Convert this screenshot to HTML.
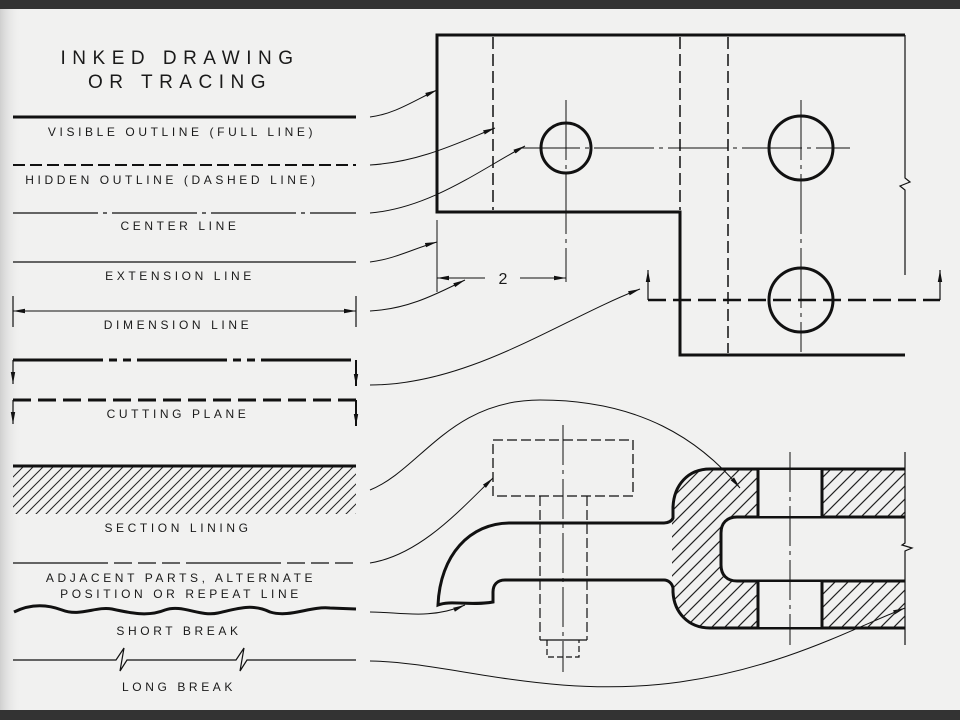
<!DOCTYPE html>
<html><head><meta charset="utf-8"><style>
html,body{margin:0;padding:0;width:960px;height:720px;overflow:hidden;background:#f1f1f0}
svg{display:block}
text{font-family:"Liberation Sans",sans-serif;fill:#1a1a1a}
</style></head><body>
<svg width="960" height="720" viewBox="0 0 960 720" xmlns="http://www.w3.org/2000/svg">
<defs>
<linearGradient id="lg" x1="0" x2="1"><stop offset="0" stop-color="#cfcfcf"/><stop offset="1" stop-color="#f1f1f0" stop-opacity="0"/></linearGradient>
<pattern id="h1" width="10" height="10" patternUnits="userSpaceOnUse"><path d="M-2,12 L12,-2 M-2,2 L2,-2 M8,12 L12,8" stroke="#222" stroke-width="1"/></pattern>
<pattern id="h2" width="13" height="13" patternUnits="userSpaceOnUse"><path d="M-2,15 L15,-2 M-2,2 L2,-2 M11,15 L15,11" stroke="#222" stroke-width="1.2"/></pattern>
<marker id="ar" markerWidth="12" markerHeight="6" refX="12" refY="3" orient="auto" markerUnits="userSpaceOnUse"><path d="M0,0.8 L12,3 L0,5.2 Z" fill="#111"/></marker>
</defs>
<rect x="0" y="0" width="22" height="720" fill="url(#lg)"/>
<rect x="0" y="0" width="960" height="9" fill="#333"/>
<rect x="0" y="710" width="960" height="10" fill="#333"/>

<g fill="none" stroke="#111">
<line x1="13" y1="117" x2="356" y2="117" stroke-width="3"/>
<line x1="13" y1="165" x2="356" y2="165" stroke-width="2" stroke-dasharray="12,5"/>
<line x1="13" y1="213" x2="356" y2="213" stroke-width="1.2" stroke-dasharray="85,5,4,5"/>
<line x1="13" y1="262" x2="356" y2="262" stroke-width="1.2"/>
<line x1="13" y1="311" x2="356" y2="311" stroke-width="1" marker-end="url(#ar)"/>
<line x1="356" y1="311" x2="13" y2="311" stroke-width="1" marker-end="url(#ar)"/>
<line x1="13" y1="296" x2="13" y2="327" stroke-width="1.2"/>
<line x1="356" y1="296" x2="356" y2="327" stroke-width="1.2"/>
<line x1="13" y1="360" x2="356" y2="360" stroke-width="3" stroke-dasharray="90,6,8,6,8,6"/>
<line x1="13" y1="360" x2="13" y2="384" stroke-width="1.2" marker-end="url(#ar)"/>
<line x1="356" y1="360" x2="356" y2="386" stroke-width="2" marker-end="url(#ar)"/>
<line x1="13" y1="400" x2="356" y2="400" stroke-width="3" stroke-dasharray="18,7"/>
<line x1="13" y1="400" x2="13" y2="424" stroke-width="1.2" marker-end="url(#ar)"/>
<line x1="356" y1="400" x2="356" y2="426" stroke-width="2" marker-end="url(#ar)"/>
<rect x="13" y="467" width="343" height="47" fill="url(#h1)" stroke="none"/>
<line x1="13" y1="466" x2="356" y2="466" stroke-width="3"/>
<line x1="13" y1="563" x2="356" y2="563" stroke-width="1.2" stroke-dasharray="95,6,18,6,18,6,18,6"/>
<path d="M14,612 C30,604 46,604 62,610 C80,617 96,606 112,609 C130,613 148,617 165,610 C182,604 200,617 218,613 C236,609 252,603 270,612 C290,618 310,606 330,608 L356,609" stroke-width="3"/>
<path d="M13,660 L116,660 L124,648 L120,671 L127,660 L236,660 L244,648 L240,671 L247,660 L356,660" stroke-width="1.2"/>

<g stroke-width="1">
<path d="M370,117 C395,114 415,100 437,90" marker-end="url(#ar)"/>
<path d="M370,165 C420,162 460,142 495,128" marker-end="url(#ar)"/>
<path d="M370,213 C430,208 480,170 525,146" marker-end="url(#ar)"/>
<path d="M370,262 C395,259 415,248 437,242" marker-end="url(#ar)"/>
<path d="M370,311 C410,309 440,292 465,280" marker-end="url(#ar)"/>
<path d="M370,385 C470,385 560,320 640,289" marker-end="url(#ar)"/>
<path d="M370,490 C420,470 450,400 540,400 C640,400 700,440 740,488" marker-end="url(#ar)"/>
<path d="M370,563 C420,555 460,510 493,478" marker-end="url(#ar)"/>
<path d="M370,612 C400,612 430,620 465,605" marker-end="url(#ar)"/>
<path d="M370,661 C450,662 550,700 680,682 C780,668 850,630 905,608" marker-end="url(#ar)"/>
</g>

<path d="M905,35 L437,35 L437,212 L680,212 L680,355 L905,355" stroke-width="3"/>
<path d="M905,35 L905,178 L910,182 L900,186 L905,190 L905,275" stroke-width="1.2"/>
<line x1="493" y1="37" x2="493" y2="210" stroke-width="1.5" stroke-dasharray="12,5"/>
<line x1="680" y1="37" x2="680" y2="210" stroke-width="1.5" stroke-dasharray="12,5"/>
<line x1="728" y1="37" x2="728" y2="353" stroke-width="1.5" stroke-dasharray="12,5"/>
<circle cx="566" cy="148" r="25" stroke-width="3"/>
<circle cx="801" cy="148" r="32" stroke-width="3"/>
<circle cx="801" cy="300" r="32" stroke-width="3"/>
<line x1="520" y1="148" x2="850" y2="148" stroke-width="1" stroke-dasharray="60,5,4,5"/>
<line x1="566" y1="100" x2="566" y2="282" stroke-width="1" stroke-dasharray="60,5,4,5"/>
<line x1="801" y1="100" x2="801" y2="352" stroke-width="1" stroke-dasharray="60,5,4,5"/>
<line x1="648" y1="300" x2="940" y2="300" stroke-width="2.5" stroke-dasharray="18,7"/>
<line x1="648" y1="300" x2="648" y2="270" stroke-width="1.2" marker-end="url(#ar)"/>
<line x1="940" y1="300" x2="940" y2="270" stroke-width="1.2" marker-end="url(#ar)"/>
<line x1="437" y1="220" x2="437" y2="292" stroke-width="1"/>
<line x1="520" y1="278" x2="566" y2="278" stroke-width="1" marker-end="url(#ar)"/>
<line x1="485" y1="278" x2="437" y2="278" stroke-width="1" marker-end="url(#ar)"/>

<rect x="493" y="440" width="140" height="56" stroke-width="1.3" stroke-dasharray="10,4"/>
<line x1="563" y1="425" x2="563" y2="672" stroke-width="1" stroke-dasharray="40,5,4,5"/>
<line x1="540" y1="496" x2="540" y2="640" stroke-width="1.2" stroke-dasharray="10,4"/>
<line x1="587" y1="496" x2="587" y2="640" stroke-width="1.2" stroke-dasharray="10,4"/>
<line x1="540" y1="640" x2="587" y2="640" stroke-width="1.2"/>
<path d="M547,640 L547,657 L579,657 L579,640" stroke-width="1.2" stroke-dasharray="6,3"/>
<path d="M664,523 L510,523 C470,523 440,555 438,605 C450,600 470,606 493,602 L493,592 C493,585 497,580 505,580 L664,580" stroke-width="3"/>
<path d="M710,469 L905,469 L905,628 L710,628 C688,628 672,612 672,590 L672,598 L672,507 C672,485 688,469 710,469 Z" fill="url(#h2)" stroke="none"/>
<path d="M905,469 L710,469 C688,469 674,485 673,507 L673,518 C672,521 668,523 664,523 M664,580 C668,580 672,583 673,588 L673,592 C674,612 688,628 710,628 L905,628" stroke-width="3"/>
<path d="M905,517 L737,517 C727,517 721,523 721,533 L721,565 C721,575 727,581 737,581 L905,581 Z" fill="#f1f1f0" stroke="none"/>
<path d="M905,517 L737,517 C727,517 721,523 721,533 L721,565 C721,575 727,581 737,581 L905,581" stroke-width="3"/>
<rect x="758" y="470" width="64" height="46" fill="#f1f1f0" stroke="none"/>
<rect x="758" y="582" width="64" height="45" fill="#f1f1f0" stroke="none"/>
<line x1="758" y1="469" x2="758" y2="517" stroke-width="3"/>
<line x1="822" y1="469" x2="822" y2="517" stroke-width="3"/>
<line x1="758" y1="581" x2="758" y2="628" stroke-width="3"/>
<line x1="822" y1="581" x2="822" y2="628" stroke-width="3"/>
<line x1="790" y1="452" x2="790" y2="645" stroke-width="1" stroke-dasharray="40,5,4,5"/>
<path d="M905,452 L905,543 L902,545 L912,548 L905,551 L905,645" stroke-width="1.2"/>
</g>

<g text-anchor="middle">
<text x="180" y="64" font-size="19" letter-spacing="6.5">INKED DRAWING</text>
<text x="180" y="88" font-size="19" letter-spacing="6.5">OR TRACING</text>
<g font-size="12" letter-spacing="3.6">
<text x="182" y="136">VISIBLE OUTLINE (FULL LINE)</text>
<text x="172" y="184">HIDDEN OUTLINE (DASHED LINE)</text>
<text x="180" y="230">CENTER LINE</text>
<text x="180" y="280">EXTENSION LINE</text>
<text x="178" y="329">DIMENSION LINE</text>
<text x="178" y="418">CUTTING PLANE</text>
<text x="178" y="532">SECTION LINING</text>
<text x="181" y="582">ADJACENT PARTS, ALTERNATE</text>
<text x="181" y="598">POSITION OR REPEAT LINE</text>
<text x="179" y="635">SHORT BREAK</text>
<text x="179" y="691">LONG BREAK</text>
</g>
<text x="503" y="284" font-size="16">2</text>
</g>
</svg>
</body></html>
